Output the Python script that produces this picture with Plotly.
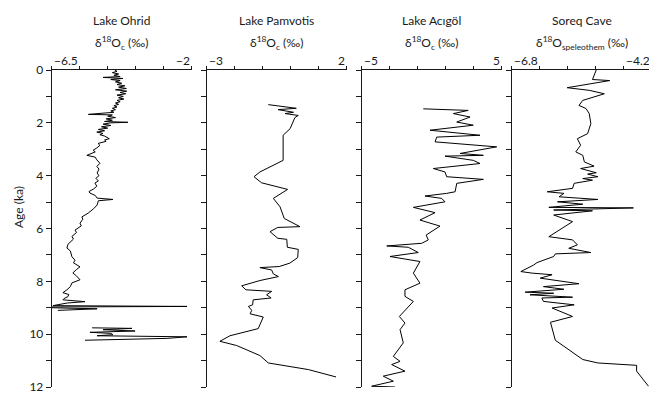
import plotly.graph_objects as go

# ---------------- data ----------------
ohrid_age = [0.00, 0.05, 0.10, 0.15, 0.20, 0.25, 0.28, 0.32, 0.36, 0.40, 0.45, 0.50, 0.55, 0.60,
             0.65, 0.70, 0.75, 0.80, 0.85, 0.90, 0.95, 1.00, 1.05, 1.10, 1.15, 1.20, 1.25, 1.30,
             1.35, 1.40, 1.45, 1.50, 1.55, 1.60, 1.68, 1.70, 1.75, 1.80, 1.85, 1.90, 1.95, 1.98,
             2.00, 2.05, 2.10, 2.15, 2.20, 2.25, 2.30, 2.35, 2.40, 2.45, 2.50, 2.55, 2.60, 2.65,
             2.70, 2.78, 2.85, 2.95, 3.04, 3.10, 3.23, 3.30, 3.40, 3.53, 3.65, 3.75, 3.90, 4.00,
             4.10, 4.20, 4.28, 4.40, 4.50, 4.60, 4.66, 4.75, 4.85, 4.90, 4.95, 5.11, 5.25, 5.42,
             5.56, 5.65, 5.80, 5.90, 6.06, 6.15, 6.30, 6.40, 6.60, 6.74, 6.85, 7.07, 7.20, 7.30,
             7.45, 7.55, 7.68, 7.80, 7.94, 8.06, 8.20, 8.32, 8.43, 8.50, 8.58, 8.65, 8.70, 8.77,
             8.82, 8.92, 8.95, 8.97, 9.00, 9.04, 9.10, None,
             9.76, 9.78, 9.83, 9.88, 9.93, 9.97, 10.02, 10.06, 10.10, 10.16, 10.23]
ohrid_d18o = [-4.47, -4.40, -4.55, -4.35, -4.50, -4.30, -4.85, -4.21, -4.60, -4.30, -4.45, -4.25, -4.40, -4.15,
              -4.35, -4.10, -4.45, -4.09, -4.30, -4.12, -4.40, -4.20, -4.35, -4.18, -4.40, -4.30, -4.45, -4.35,
              -4.50, -4.40, -4.55, -4.45, -4.60, -4.50, -5.32, -4.55, -4.70, -4.45, -4.75, -4.55, -4.80, -4.05,
              -4.60, -4.85, -4.60, -4.90, -4.70, -5.00, -4.80, -5.05, -4.85, -4.95, -4.80, -4.70, -4.65, -4.80,
              -4.75, -5.01, -4.95, -5.05, -5.17, -5.10, -5.37, -5.10, -5.05, -4.95, -5.05, -4.98, -5.04, -4.98,
              -5.08, -5.00, -5.11, -5.05, -5.15, -5.30, -5.27, -5.10, -5.04, -4.53, -5.00, -5.04, -5.15, -5.33,
              -5.53, -5.50, -5.59, -5.55, -5.75, -5.70, -5.85, -5.80, -5.98, -6.01, -5.90, -5.85, -5.75, -5.80,
              -5.59, -5.70, -5.82, -5.70, -5.59, -5.85, -5.90, -6.01, -6.14, -5.95, -5.98, -6.10, -6.14, -5.43,
              -6.00, -6.46, -2.15, -6.49, -6.49, -5.04, -6.30, None,
              -5.20, -3.92, -4.85, -3.82, -5.27, -4.60, -4.53, -5.04, -2.15, -2.79, -5.43]

pamvotis_age = [1.31, 1.45, 1.50, 1.60, 1.65, 1.72, 1.80, 2.22, 2.47, 3.42, 3.86, 4.04, 4.27, 4.52,
                4.86, 5.18, 5.62, 5.93, 5.96, 6.12, 6.37, 6.41, 6.71, 6.79, 7.10, 7.31, 7.44, 7.48,
                7.57, 7.72, 7.82, 7.97, 8.17, 8.32, 8.38, 8.51, 8.63, 8.70, 8.89, 8.95, 9.10, 9.23,
                9.35, 9.79, 10.06, 10.27, 10.43, 10.81, 11.09, 11.34, 11.62]
pamvotis_d18o = [-0.80, 0.20, -0.45, 0.10, -0.20, 0.27, 0.15, -0.02, -0.27, -0.27, -1.10, -1.31, -1.04, -0.11,
                 -0.62, -0.38, -0.23, 0.33, -0.46, -0.74, -0.46, -0.14, -0.12, 0.27, 0.25, -0.03, -0.41, -1.10,
                 -0.68, -0.62, -0.44, -1.10, -1.75, -1.60, -0.68, -0.86, -0.70, -1.34, -1.36, -1.51, -1.39, -1.45,
                 -0.98, -1.16, -2.17, -2.53, -1.93, -1.10, -0.80, 0.63, 1.62]

acigol_age = [1.47, 1.53, 1.65, 1.78, 1.97, 2.09, 2.28, 2.47, 2.54, 2.72, 2.91, 3.16, 3.23, 3.26,
              3.42, 3.54, 3.73, 3.86, 4.04, 4.14, 4.29, 4.61, 4.67, 4.77, 4.86, 4.99, 5.20, 5.40,
              5.68, 5.91, 6.25, 6.43, 6.56, 6.66, 6.71, 6.91, 7.06, 7.25, 7.69, 8.07, 8.32, 8.57,
              8.76, 9.33, 9.58, 9.83, 10.33, 10.84, 11.03, 11.15, 11.40, 11.59, 11.78, 11.91, 11.97, 12.00]
acigol_d18o = [-0.60, 2.61, 1.55, 2.74, 1.79, 2.97, -0.12, 3.45, 0.36, 0.24, 4.64, 2.02, 3.69, 0.95,
               2.97, 3.45, 0.12, 0.95, 1.07, 3.69, 1.79, 1.67, 1.07, -0.48, 0.71, 0.95, -1.31, 0.24,
               -0.84, 0.59, -0.40, -0.24, -0.71, -3.21, -1.67, -0.96, -2.98, -0.84, -1.31, -0.84, -1.91, -1.91,
               -1.31, -2.31, -1.91, -2.26, -2.03, -2.74, -2.26, -2.86, -1.91, -3.46, -2.74, -3.69, -4.29, -2.62]

soreq_age = [0.00, 0.36, 0.40, 0.67, 0.77, 0.90, 1.15, 1.34, 1.46, 1.65, 2.03, 2.41, 2.60, 2.85,
             3.10, 3.23, 3.48, 3.64, 3.73, 3.89, 3.94, 4.04, 4.11, 4.17, 4.29, 4.48, 4.61, 4.67,
             4.80, 4.90, 4.99, 5.08, 5.20, 5.22, 5.30, 5.33, 5.49, 5.74, 6.31, 6.43, 6.62, 6.75,
             6.91, 6.96, 7.06, 7.29, 7.38, 7.63, 7.69, 7.75, 7.88, 8.09, 8.20, 8.30, 8.41, 8.45,
             8.51, 8.57, 8.60, 8.63, 8.76, 8.89, 9.01, 9.33, 9.55, 10.23, 10.96, 11.09, 11.18, 11.40,
             11.97]
soreq_d18o = [-5.23, -5.30, -4.98, -5.77, -5.36, -5.08, -5.48, -5.55, -5.42, -5.36, -5.33, -5.39, -5.58, -5.52,
              -5.61, -5.48, -5.45, -5.27, -5.52, -5.23, -5.39, -5.20, -5.48, -5.30, -5.64, -5.67, -6.14, -5.83,
              -5.92, -5.20, -5.95, -5.48, -6.11, -4.54, -6.02, -5.30, -6.02, -5.67, -6.11, -5.67, -5.58, -5.74,
              -5.33, -5.99, -6.02, -6.33, -6.39, -6.63, -6.42, -6.05, -6.27, -5.55, -6.21, -5.83, -6.55, -6.02,
              -6.46, -5.99, -5.67, -6.24, -6.21, -5.64, -6.05, -5.67, -6.08, -5.99, -5.48, -5.20, -4.48, -4.48,
              -4.26]

panel_titles = ["Lake Ohrid", "Lake Pamvotis", "Lake Acıgöl", "Soreq Cave"]
axis_titles = ["δ<sup>18</sup>O<sub>c</sub> (‰)", "δ<sup>18</sup>O<sub>c</sub> (‰)",
               "δ<sup>18</sup>O<sub>c</sub> (‰)", "δ<sup>18</sup>O<sub>speleothem</sub> (‰)"]
x_ranges = [(-6.5, -2.0), (-3.0, 2.0), (-5.0, 5.0), (-6.8, -4.2)]
x_labels = [("−6.5", "−2"), ("−3", "2"), ("−5", "5"), ("−6.8", "−4.2")]
age_ticks = list(range(0, 13))
age_labels = [str(a) if a % 2 == 0 else "" for a in age_ticks]

series = [(ohrid_age, ohrid_d18o), (pamvotis_age, pamvotis_d18o),
          (acigol_age, acigol_d18o), (soreq_age, soreq_d18o)]

# ---------------- layout ----------------
W, H = 649, 393
MT, MB = 70, 6
plot_h = H - MT - MB
PANEL_W = 140.0
left_px = [51.7, 206.7, 361.7, 511.7]
FONT = "Lato, 'Open Sans', sans-serif"
INK = "#1a1a1a"


def py_to_paper(py):
    return (H - MB - py) / plot_h


fig = go.Figure()
layout = dict(width=W, height=H, margin=dict(l=0, r=0, t=MT, b=MB, pad=0),
              paper_bgcolor="white", plot_bgcolor="white", showlegend=False,
              font=dict(family=FONT, size=12, color=INK))
annotations = []

for i, (ages, vals) in enumerate(series):
    n = "" if i == 0 else str(i + 1)
    fig.add_trace(go.Scatter(x=vals, y=ages, mode="lines", xaxis="x" + n, yaxis="y" + n,
                             line=dict(color="black", width=1), connectgaps=False,
                             hoverinfo="skip"))
    lo, hi = x_ranges[i]
    full_right = left_px[i] + PANEL_W
    right = min(full_right, W)
    hi_vis = lo + (hi - lo) * (right - left_px[i]) / PANEL_W
    tv = [lo + (hi - lo) * k / 5 for k in range(6)]
    layout["xaxis" + n] = dict(domain=[left_px[i] / W, right / W], range=[lo, hi_vis],
                               side="top", anchor="y" + n, showline=True, linecolor=INK, linewidth=1,
                               ticks="outside", ticklen=3, tickwidth=1, tickcolor=INK,
                               tickvals=tv, ticktext=[""] * 6, showgrid=False, zeroline=False,
                               automargin=False)
    layout["yaxis" + n] = dict(domain=[0, 1], range=[12.0, 0], anchor="x" + n,
                               showline=True, linecolor=INK, linewidth=1,
                               ticks="outside", ticklen=5, tickwidth=1, tickcolor=INK,
                               tickvals=age_ticks, ticktext=age_labels,
                               showticklabels=(i == 0), showgrid=False, zeroline=False,
                               ticklabeloverflow="allow",
                               tickfont=dict(size=12, color=INK), automargin=False)
    # end tick labels: left-aligned at the left end, right-aligned at the right end
    annotations.append(dict(text=x_labels[i][0], x=left_px[i] / W, y=py_to_paper(61),
                            xref="paper", yref="paper", showarrow=False,
                            xanchor="left", yanchor="middle", font=dict(size=12, color=INK)))
    annotations.append(dict(text=x_labels[i][1], x=full_right / W, y=py_to_paper(61),
                            xref="paper", yref="paper", showarrow=False,
                            xanchor="right", yanchor="middle", font=dict(size=12, color=INK)))
    cx = left_px[i] + PANEL_W / 2
    annotations.append(dict(text=panel_titles[i], x=cx / W, y=py_to_paper(20),
                            xref="paper", yref="paper", showarrow=False,
                            xanchor="center", yanchor="middle", font=dict(size=12, color=INK)))
    annotations.append(dict(text=axis_titles[i], x=cx / W, y=py_to_paper(43),
                            xref="paper", yref="paper", showarrow=False,
                            xanchor="center", yanchor="middle", font=dict(size=12, color=INK)))

annotations.append(dict(text="Age (ka)", x=18 / W, y=py_to_paper(207), xref="paper", yref="paper",
                        showarrow=False, textangle=-90, xanchor="center", yanchor="middle",
                        font=dict(size=12, color=INK)))
layout["annotations"] = annotations
fig.update_layout(**layout)
fig.write_html("out.html", config={"displayModeBar": False},
               post_script="document.body.style.margin='0';"
                           "document.body.style.overflow='hidden';"
                           "document.documentElement.style.overflow='hidden';")
